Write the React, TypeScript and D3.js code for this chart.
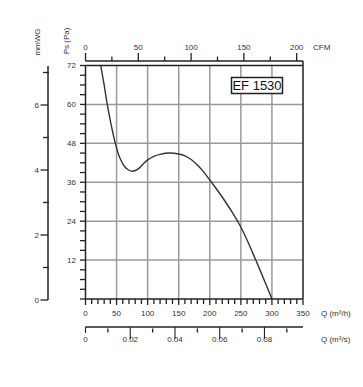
import React from "react";
import * as d3 from "d3";

const qFlow = [24.5, 30, 35, 41, 48, 55, 63, 70, 76, 85, 92, 100, 110, 120, 135, 150, 160, 170, 180, 190, 200, 212, 224, 236, 248, 260, 274, 287, 300];
const psPa = [72, 66, 60, 54, 48, 43.6, 40.8, 39.7, 39.4, 40.1, 41.5, 42.9, 44, 44.6, 45, 44.7, 44.1, 43.0, 41.3, 39.2, 36.7, 33.6, 30.3, 26.8, 22.9, 18.2, 12, 6.1, 0];

const qTickLabels = [0, 50, 100, 150, 200, 250, 300, 350];
const psTickLabels = [72, 60, 48, 36, 24, 12];
const mmTickLabels = [0, 2, 4, 6];
const cfmTickLabels = [0, 50, 100, 150, 200];
const qsTickLabels = [0, 0.02, 0.04, 0.06, 0.08];
const modelName = "EF 1530";

const FONT = "'Liberation Sans', Arial, sans-serif";

export default function App() {
  const x = d3.scaleLinear().domain([0, 350]).range([85.5, 303]);
  const y = d3.scaleLinear().domain([0, 72]).range([299, 65.5]);
  const mm = d3.scaleLinear().domain([0, 7.2]).range([300, 66]);
  const xCfm = (v: number) => x(v * 1.699);
  const xQs = (v: number) => x(v * 3600);

  const line = d3
    .line<number>()
    .x((_, i) => x(qFlow[i]))
    .y((d) => y(d))
    .curve(d3.curveCatmullRom.alpha(0.5));

  const grid = "#9a9a9a";
  const ink = "#222";
  const txt = "#333";

  const qMinor = d3.range(0, 351, 10);
  const psMinor = d3.range(0, 73, 3);
  const cfmMinor = d3.range(0, 201, 25);
  const qsMinor = [0.01, 0.03, 0.05, 0.07, 0.09];

  return (
    <svg
      width={363}
      height={387}
      style={{ position: "absolute", left: 0, top: 0, background: "#fff" }}
      fontFamily={FONT}
    >
      <rect x={0} y={0} width={363} height={387} fill="#fff" />
      {/* grid */}
      {[50, 100, 150, 200, 250, 300].map((v) => (
        <line key={"gx" + v} x1={x(v)} x2={x(v)} y1={y(72)} y2={y(0)} stroke={grid} strokeWidth={1.5} />
      ))}
      {[12, 24, 36, 48, 60].map((v) => (
        <line key={"gy" + v} x1={x(0)} x2={x(350)} y1={y(v)} y2={y(v)} stroke={grid} strokeWidth={1.5} />
      ))}

      {/* curve */}
      <path d={line(psPa) || ""} fill="none" stroke="#333" strokeWidth={1.4} />

      {/* frame */}
      <line x1={x(0)} x2={x(350)} y1={y(72)} y2={y(72)} stroke={ink} strokeWidth={1.5} />
      <line x1={x(0)} x2={x(0)} y1={y(72)} y2={y(0)} stroke={ink} strokeWidth={1.5} />
      <line x1={x(0)} x2={x(350)} y1={y(0)} y2={y(0)} stroke={ink} strokeWidth={1.5} />
      <line x1={x(350)} x2={x(350)} y1={61} y2={y(0)} stroke={ink} strokeWidth={1.5} />

      {/* Ps axis ticks */}
      {psMinor.map((v) => (
        <line key={"pt" + v} x1={x(0) - 5.5} x2={x(0)} y1={y(v)} y2={y(v)} stroke={ink} strokeWidth={1.3} />
      ))}
      {psTickLabels.map((v) => (
        <text key={"pl" + v} x={76} y={y(v)} dy="0.35em" textAnchor="end" fontSize={8} fill={txt}>
          {v}
        </text>
      ))}
      <text transform={`translate(69,41) rotate(-90)`} textAnchor="middle" fontSize={8} fill={txt}>
        Ps (Pa)
      </text>

      {/* mmWG axis */}
      <line x1={48} x2={48} y1={mm(7.2)} y2={mm(0)} stroke={ink} strokeWidth={1.5} />
      {[1, 3, 5, 7].map((v) => (
        <line key={"mm" + v} x1={43} x2={49} y1={mm(v)} y2={mm(v)} stroke={ink} strokeWidth={1.3} />
      ))}
      {mmTickLabels.map((v) => (
        <g key={"mml" + v}>
          <line x1={40.5} x2={48} y1={mm(v)} y2={mm(v)} stroke={ink} strokeWidth={1.3} />
          <text x={39} y={mm(v)} dy="0.35em" textAnchor="end" fontSize={8} fill={txt}>
            {v}
          </text>
        </g>
      ))}
      <text transform={`translate(40,42) rotate(-90)`} textAnchor="middle" fontSize={8} fill={txt}>
        mmWG
      </text>

      {/* Q m3/h axis */}
      {qMinor.map((v) => (
        <line key={"qt" + v} x1={x(v)} x2={x(v)} y1={y(0)} y2={y(0) + (v % 50 === 0 ? 6 : 5)} stroke={ink} strokeWidth={1.3} />
      ))}
      {qTickLabels.map((v) => (
        <text key={"ql" + v} x={x(v)} y={316} textAnchor="middle" fontSize={8} fill={txt}>
          {v}
        </text>
      ))}
      <text x={321} y={316} fontSize={8} fill={txt}>
        Q (m³/h)
      </text>

      {/* Q m3/s axis */}
      <line x1={x(0)} x2={x(350)} y1={327} y2={327} stroke={ink} strokeWidth={1.3} />
      {qsMinor.map((v) => (
        <line key={"qsm" + v} x1={xQs(v)} x2={xQs(v)} y1={328.5} y2={332.5} stroke={ink} strokeWidth={1.3} />
      ))}
      {qsTickLabels.map((v) => (
        <g key={"qsl" + v}>
          <line x1={xQs(v)} x2={xQs(v)} y1={327} y2={v === 0 ? 333 : 339} stroke={ink} strokeWidth={1.1} />
          <text x={xQs(v)} y={342} textAnchor="middle" fontSize={8} fill={txt}>
            {v === 0 ? "0" : v.toFixed(2)}
          </text>
        </g>
      ))}
      <text x={321} y={342} fontSize={8} fill={txt}>
        Q (m³/s)
      </text>

      {/* CFM axis */}
      <line x1={x(0)} x2={x(350)} y1={61} y2={61} stroke={ink} strokeWidth={1.5} />
      {cfmMinor.map((v) => (
        <line
          key={"cf" + v}
          x1={xCfm(v)}
          x2={xCfm(v)}
          y1={61}
          y2={v % 50 === 0 ? 53 : 56.5}
          stroke={ink}
          strokeWidth={1.3}
        />
      ))}
      {cfmTickLabels.map((v) => (
        <text key={"cfl" + v} x={xCfm(v)} y={50} textAnchor="middle" fontSize={8} fill={txt}>
          {v}
        </text>
      ))}
      <text x={313} y={50} fontSize={8} fill={txt}>
        CFM
      </text>

      {/* model label */}
      <rect x={231.5} y={77.5} width={51} height={16} fill="#fff" stroke={ink} strokeWidth={1.5} />
      <text x={257} y={85.8} dy="0.36em" textAnchor="middle" fontSize={13} fill="#111">
        {modelName}
      </text>
    </svg>
  );
}
